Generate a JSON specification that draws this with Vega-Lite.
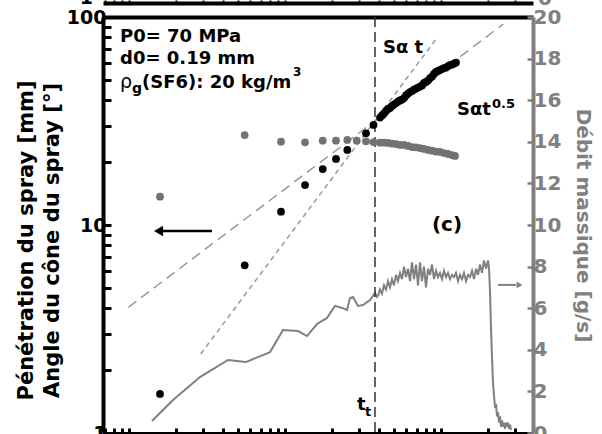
{
 "$schema": "https://vega.github.io/schema/vega-lite/v6.json",
 "width": 430, "height": 416,
 "autosize": "none",
 "padding": {"left": 103, "top": 17, "right": 69, "bottom": 1},
 "background": "white",
 "config": {"font": "DejaVu Sans", "view": {"stroke": null}, "axis": {"grid": false}},
 "datasets": {
  "pen": [
   {"t":0.0158,"v":1.54},{"t":0.05516,"v":6.40},{"t":0.09427,"v":11.59},{"t":0.1344,"v":15.57},{"t":0.1745,"v":18.58},
   {"t":0.2123,"v":20.77},{"t":0.2508,"v":22.94},{"t":0.3305,"v":27.60},{"t":0.3693,"v":30.26},{"t":0.4064,"v":32.87},
   {"t":0.4186,"v":33.61},{"t":0.4311,"v":34.37},{"t":0.4440,"v":35.33},{"t":0.4573,"v":36.12},{"t":0.4710,"v":36.52},
   {"t":0.4851,"v":37.34},{"t":0.4997,"v":37.96},{"t":0.5146,"v":38.59},{"t":0.5301,"v":39.24},{"t":0.5460,"v":39.68},
   {"t":0.5623,"v":40.12},{"t":0.5792,"v":40.79},{"t":0.5965,"v":41.94},{"t":0.6144,"v":42.87},{"t":0.6328,"v":43.59},
   {"t":0.6518,"v":44.07},{"t":0.6713,"v":44.81},{"t":0.6914,"v":45.30},{"t":0.7122,"v":45.82},{"t":0.7335,"v":46.33},
   {"t":0.7555,"v":46.85},{"t":0.7781,"v":48.17},{"t":0.8014,"v":48.70},{"t":0.8255,"v":49.51},{"t":0.8502,"v":50.90},
   {"t":0.8757,"v":51.75},{"t":0.9019,"v":53.21},{"t":0.9290,"v":54.40},{"t":0.9568,"v":55.01},{"t":0.9855,"v":55.62},
   {"t":1.0150,"v":56.23},{"t":1.0454,"v":56.86},{"t":1.0768,"v":57.17},{"t":1.1090,"v":58.13},{"t":1.1423,"v":58.78},
   {"t":1.1765,"v":59.10},{"t":1.2118,"v":59.76},{"t":1.2481,"v":60.42}
  ],
  "angle": [
   {"t":0.0158,"v":13.68},{"t":0.05516,"v":27.08},{"t":0.09427,"v":25.15},{"t":0.1344,"v":24.98},{"t":0.1745,"v":25.43},
   {"t":0.2123,"v":25.43},{"t":0.2508,"v":25.63},{"t":0.2882,"v":25.43},{"t":0.3305,"v":25.26},{"t":0.3693,"v":25.06},
   {"t":0.4064,"v":24.87},{"t":0.4311,"v":24.92},{"t":0.4573,"v":24.79},{"t":0.4851,"v":24.65},{"t":0.5146,"v":24.51},
   {"t":0.5460,"v":24.25},{"t":0.5792,"v":24.25},{"t":0.6144,"v":23.98},{"t":0.6518,"v":23.71},{"t":0.6914,"v":23.63},
   {"t":0.7335,"v":23.45},{"t":0.7781,"v":23.20},{"t":0.8255,"v":22.94},{"t":0.8757,"v":22.76},{"t":0.9290,"v":22.56},
   {"t":0.9855,"v":22.44},{"t":1.0454,"v":22.19},{"t":1.1090,"v":21.95},{"t":1.1765,"v":21.70},{"t":1.2298,"v":21.47}
  ],
  "flow": [
   {"t":0.01404,"v":0.58},{"t":0.01915,"v":1.59},{"t":0.02852,"v":2.69},{"t":0.04311,"v":3.51},{"t":0.05623,"v":3.41},
   {"t":0.08014,"v":3.89},{"t":0.0971,"v":4.95},{"t":0.1212,"v":4.90},{"t":0.1384,"v":4.66},{"t":0.1604,"v":5.24},
   {"t":0.1858,"v":5.53},{"t":0.2092,"v":6.11},{"t":0.2354,"v":6.00},{"t":0.2497,"v":5.91},{"t":0.2610,"v":6.49},
   {"t":0.2729,"v":6.54},{"t":0.2937,"v":6.11},{"t":0.3162,"v":6.15},{"t":0.3506,"v":6.39},{"t":0.3775,"v":6.73},
   {"t":0.3888,"v":6.54},{"t":0.3946,"v":6.6},{"t":0.4064,"v":6.9},{"t":0.4186,"v":6.7},{"t":0.4311,"v":7.1},
   {"t":0.4440,"v":6.9},{"t":0.4573,"v":7.3},{"t":0.4710,"v":7.0},{"t":0.4851,"v":7.4},{"t":0.4997,"v":7.1},
   {"t":0.5146,"v":7.6},{"t":0.5301,"v":7.3},{"t":0.5460,"v":7.7},{"t":0.5623,"v":7.4},{"t":0.5792,"v":8.0},
   {"t":0.5965,"v":7.5},{"t":0.6144,"v":7.9},{"t":0.6328,"v":7.3},{"t":0.6518,"v":8.2},{"t":0.6713,"v":7.4},
   {"t":0.6914,"v":8.1},{"t":0.7122,"v":7.1},{"t":0.7335,"v":8.2},{"t":0.7555,"v":7.3},{"t":0.7781,"v":8.0},
   {"t":0.8014,"v":7.0},{"t":0.8255,"v":7.9},{"t":0.8502,"v":7.6},{"t":0.8757,"v":8.1},{"t":0.9019,"v":7.4},
   {"t":0.9290,"v":7.8},{"t":0.9568,"v":7.5},{"t":0.9855,"v":7.7},{"t":1.0150,"v":7.4},{"t":1.0454,"v":7.8},
   {"t":1.0768,"v":7.5},{"t":1.1090,"v":7.7},{"t":1.1423,"v":7.4},{"t":1.1765,"v":7.6},{"t":1.2118,"v":7.5},
   {"t":1.2481,"v":7.7},{"t":1.2855,"v":7.3},{"t":1.3240,"v":7.6},{"t":1.3637,"v":7.4},{"t":1.4046,"v":7.7},
   {"t":1.4467,"v":7.3},{"t":1.4901,"v":7.6},{"t":1.5347,"v":7.5},{"t":1.5807,"v":7.8},{"t":1.6281,"v":7.4},
   {"t":1.6769,"v":7.9},{"t":1.7271,"v":7.6},{"t":1.7789,"v":8.1},{"t":1.8322,"v":7.7},{"t":1.8871,"v":8.3},
   {"t":1.9437,"v":7.9},{"t":2.0019,"v":8.3},{"t":2.0317,"v":7.9},{"t":2.0619,"v":6.8},{"t":2.0926,"v":5.0},
   {"t":2.1237,"v":3.6},{"t":2.1553,"v":2.4},{"t":2.1873,"v":1.8},{"t":2.2198,"v":1.2},{"t":2.2529,"v":1.4},
   {"t":2.2864,"v":0.8},{"t":2.3204,"v":1.0},{"t":2.3549,"v":0.5},{"t":2.3899,"v":0.8},{"t":2.4255,"v":0.3},
   {"t":2.4616,"v":0.6},{"t":2.4982,"v":0.3},{"t":2.5353,"v":0.5},{"t":2.5730,"v":0.2},{"t":2.6113,"v":0.5},
   {"t":2.6501,"v":0.3},{"t":2.6896,"v":0.5},{"t":2.7296,"v":0.2},{"t":2.7702,"v":0.4},{"t":2.8114,"v":0.15}
  ],
  "fit1": [{"t":0.02882,"v":2.398},{"t":0.9385,"v":79.0}],
  "fit05": [{"t":0.009897,"v":4.02},{"t":2.508,"v":92.5}]
 },
 "layer": [
  {
   "layer": [
    {"data": {"name": "flow"}, "mark": {"type": "line", "color": "#808080", "strokeWidth": 2},
     "encoding": {
      "x": {"field": "t", "type": "quantitative", "scale": {"type": "log", "domain": [0.006813, 3.888], "nice": false},
            "axis": {"orient": "top", "labels": false, "ticks": false, "title": null, "domainColor": "black", "domainWidth": 4}},
      "y": {"field": "v", "type": "quantitative", "scale": {"type": "linear", "domain": [0, 20], "nice": false, "zero": false},
            "axis": {"orient": "right", "title": "Débit massique [g/s]", "titleAngle": 90, "titleColor": "#808080",
                     "titleFont": "DejaVu Sans", "titleFontSize": 20, "titleFontWeight": "bold",
                     "titleAlign": "center", "titleBaseline": "bottom", "titleX": 39, "titleY": 208,
                     "values": [0,1,2,3,4,5,6,7,8,9,10,11,12,13,14,15,16,17,18,19,20],
                     "labelExpr": "datum.value % 2 == 0 ? datum.label : ''",
                     "labelColor": "#808080", "labelFont": "DejaVu Sans", "labelFontSize": 20, "labelFontWeight": "bold",
                     "labelPadding": 6, "labelFlush": false, "labelOverlap": false, "labelBound": false,
                     "domainColor": "#808080", "domainWidth": 4, "tickColor": "#808080", "tickWidth": 2.5,
                     "tickSize": -6}}
     }},
    {"data": {"values": [{}]}, "mark": {"type": "rule", "color": "#808080", "strokeWidth": 2},
     "encoding": {"x": {"datum": 2.32, "type": "quantitative"}, "x2": {"datum": 3.026}, "y": {"datum": 7.12, "type": "quantitative"}}},
    {"data": {"values": [{}]}, "mark": {"type": "point", "shape": "triangle-right", "filled": true, "color": "#808080", "size": 45, "opacity": 1},
     "encoding": {"x": {"datum": 3.186, "type": "quantitative"}, "y": {"datum": 7.12, "type": "quantitative"}}}
   ]
  },
  {
   "layer": [
    {"data": {"name": "fit05"}, "mark": {"type": "line", "color": "#999999", "strokeWidth": 1.5, "strokeDash": [10, 6]},
     "encoding": {
      "x": {"field": "t", "type": "quantitative", "scale": {"type": "log", "domain": [0.006813, 3.888], "nice": false},
            "axis": {"orient": "bottom", "title": null, "labels": false, "domainColor": "black", "domainWidth": 3,
                     "tickColor": "black", "tickWidth": 3, "tickSize": -5}},
      "y": {"field": "v", "type": "quantitative", "scale": {"type": "log", "domain": [1, 100], "nice": false},
            "axis": {"orient": "left", "title": ["Pénétration du spray [mm]", "Angle du cône du spray [°]"],
                     "titleFont": "DejaVu Sans", "titleFontSize": 21, "titleFontWeight": "bold", "titleColor": "black",
                     "titleAngle": -90, "titleAlign": "center", "titleBaseline": "bottom", "titleX": -67, "titleY": 223, "titleLineHeight": 26,
                     "labelExpr": "abs(log(datum.value)/LN10 - round(log(datum.value)/LN10)) < 0.001 ? datum.value : ''",
                     "labelFont": "DejaVu Sans", "labelFontSize": 19, "labelFontWeight": "bold", "labelColor": "black",
                     "labelPadding": 5, "labelFlush": false, "labelOverlap": false, "labelBound": false,
                     "domainColor": "black", "domainWidth": 4, "tickColor": "black", "tickWidth": 3,
                     "tickSize": -8}}
     }},
    {"data": {"name": "fit1"}, "mark": {"type": "line", "color": "#999999", "strokeWidth": 1.5, "strokeDash": [5, 4]},
     "encoding": {"x": {"field": "t", "type": "quantitative"}, "y": {"field": "v", "type": "quantitative"}}},
    {"data": {"values": [{}]}, "mark": {"type": "rule", "color": "#333333", "strokeWidth": 1.5, "strokeDash": [10, 5]},
     "encoding": {"x": {"datum": 0.3775, "type": "quantitative"}}},
    {"data": {"name": "angle"}, "mark": {"type": "circle", "color": "#727272", "size": 60, "opacity": 1},
     "encoding": {"x": {"field": "t", "type": "quantitative"}, "y": {"field": "v", "type": "quantitative"}}},
    {"data": {"name": "pen"}, "mark": {"type": "circle", "color": "black", "size": 60, "opacity": 1},
     "encoding": {"x": {"field": "t", "type": "quantitative"}, "y": {"field": "v", "type": "quantitative"}}},
    {"data": {"values": [{}]}, "mark": {"type": "text", "text": "P0= 70 MPa", "font": "DejaVu Sans", "fontSize": 18, "fontWeight": "bold", "align": "left", "baseline": "alphabetic", "color": "black"},
     "encoding": {"x": {"datum": 0.008757, "type": "quantitative"}, "y": {"datum": 75.8, "type": "quantitative"}}},
    {"data": {"values": [{}]}, "mark": {"type": "text", "text": "d0= 0.19 mm", "font": "DejaVu Sans", "fontSize": 18, "fontWeight": "bold", "align": "left", "baseline": "alphabetic", "color": "black"},
     "encoding": {"x": {"datum": 0.008757, "type": "quantitative"}, "y": {"datum": 59.4, "type": "quantitative"}}},
    {"data": {"values": [{}]}, "mark": {"type": "text", "text": "ρ", "font": "DejaVu Sans", "fontSize": 19, "fontWeight": "normal", "align": "left", "baseline": "alphabetic", "color": "black"},
     "encoding": {"x": {"datum": 0.008757, "type": "quantitative"}, "y": {"datum": 45.6, "type": "quantitative"}}},
    {"data": {"values": [{}]}, "mark": {"type": "text", "text": "g", "font": "DejaVu Sans", "fontSize": 14, "fontWeight": "bold", "align": "left", "baseline": "alphabetic", "color": "black"},
     "encoding": {"x": {"datum": 0.01045, "type": "quantitative"}, "y": {"datum": 43.1, "type": "quantitative"}}},
    {"data": {"values": [{}]}, "mark": {"type": "text", "text": "(SF6): 20 kg/m", "font": "DejaVu Sans", "fontSize": 18, "fontWeight": "bold", "align": "left", "baseline": "alphabetic", "color": "black"},
     "encoding": {"x": {"datum": 0.01212, "type": "quantitative"}, "y": {"datum": 45.6, "type": "quantitative"}}},
    {"data": {"values": [{}]}, "mark": {"type": "text", "text": "3", "font": "DejaVu Sans", "fontSize": 12, "fontWeight": "bold", "align": "left", "baseline": "alphabetic", "color": "black"},
     "encoding": {"x": {"datum": 0.1125, "type": "quantitative"}, "y": {"datum": 52.0, "type": "quantitative"}}},
    {"data": {"values": [{}]}, "mark": {"type": "text", "text": "Sα t", "font": "DejaVu Sans", "fontSize": 18, "fontWeight": "bold", "align": "left", "baseline": "alphabetic", "color": "black"},
     "encoding": {"x": {"datum": 0.4248, "type": "quantitative"}, "y": {"datum": 67.1, "type": "quantitative"}}},
    {"data": {"values": [{}]}, "mark": {"type": "text", "text": "Sαt", "font": "DejaVu Sans", "fontSize": 18, "fontWeight": "bold", "align": "left", "baseline": "alphabetic", "color": "black"},
     "encoding": {"x": {"datum": 1.266, "type": "quantitative"}, "y": {"datum": 33.8, "type": "quantitative"}}},
    {"data": {"values": [{}]}, "mark": {"type": "text", "text": "0.5", "font": "DejaVu Sans", "fontSize": 13, "fontWeight": "bold", "align": "left", "baseline": "alphabetic", "color": "black"},
     "encoding": {"x": {"datum": 2.123, "type": "quantitative"}, "y": {"datum": 36.5, "type": "quantitative"}}},
    {"data": {"values": [{}]}, "mark": {"type": "text", "text": "t", "font": "DejaVu Sans", "fontSize": 18, "fontWeight": "bold", "align": "left", "baseline": "alphabetic", "color": "black"},
     "encoding": {"x": {"datum": 0.2894, "type": "quantitative"}, "y": {"datum": 1.29, "type": "quantitative"}}},
    {"data": {"values": [{}]}, "mark": {"type": "text", "text": "t", "font": "DejaVu Sans", "fontSize": 13, "fontWeight": "bold", "align": "left", "baseline": "alphabetic", "color": "black"},
     "encoding": {"x": {"datum": 0.3257, "type": "quantitative"}, "y": {"datum": 1.207, "type": "quantitative"}}},
    {"data": {"values": [{}]}, "mark": {"type": "rule", "color": "black", "strokeWidth": 2.5},
     "encoding": {"x": {"datum": 0.0155, "type": "quantitative"}, "x2": {"datum": 0.03404}, "y": {"datum": 9.36, "type": "quantitative"}}},
    {"data": {"values": [{}]}, "mark": {"type": "point", "shape": "triangle-left", "filled": true, "color": "black", "size": 110, "opacity": 1},
     "encoding": {"x": {"datum": 0.01546, "type": "quantitative"}, "y": {"datum": 9.36, "type": "quantitative"}}}
   ]
  },
  {
   "layer": [
    {"data": {"values": [{}]},
     "mark": {"type": "text", "text": "(c)", "font": "DejaVu Sans", "fontSize": 20, "fontWeight": "bold", "align": "center", "baseline": "middle", "color": "black"},
     "encoding": {
      "x": {"datum": 1.093, "type": "quantitative", "scale": {"type": "log", "domain": [0.006813, 3.888], "nice": false},
            "axis": {"orient": "top", "offset": 14, "labels": false, "title": null, "domainColor": "black", "domainWidth": 4, "tickColor": "black", "tickWidth": 2, "tickSize": 3}},
      "y": {"datum": 10, "type": "quantitative", "scale": {"type": "log", "domain": [1, 100], "nice": false}, "axis": null}
     }},
    {"data": {"values": [{}]},
     "mark": {"type": "text", "text": "1", "font": "DejaVu Sans", "fontSize": 19, "fontWeight": "bold", "align": "right", "baseline": "middle", "color": "black"},
     "encoding": {"x": {"datum": 0.005876, "type": "quantitative"}, "y": {"datum": 123.4, "type": "quantitative"}}},
    {"data": {"values": [{}]},
     "mark": {"type": "text", "text": "0", "font": "DejaVu Sans", "fontSize": 20, "fontWeight": "bold", "align": "left", "baseline": "middle", "color": "#808080"},
     "encoding": {"x": {"datum": 4.186, "type": "quantitative"}, "y": {"datum": 122.0, "type": "quantitative"}}}
   ]
  }
 ],
 "resolve": {"scale": {"y": "independent"}, "axis": {"x": "independent", "y": "independent"}}
}
